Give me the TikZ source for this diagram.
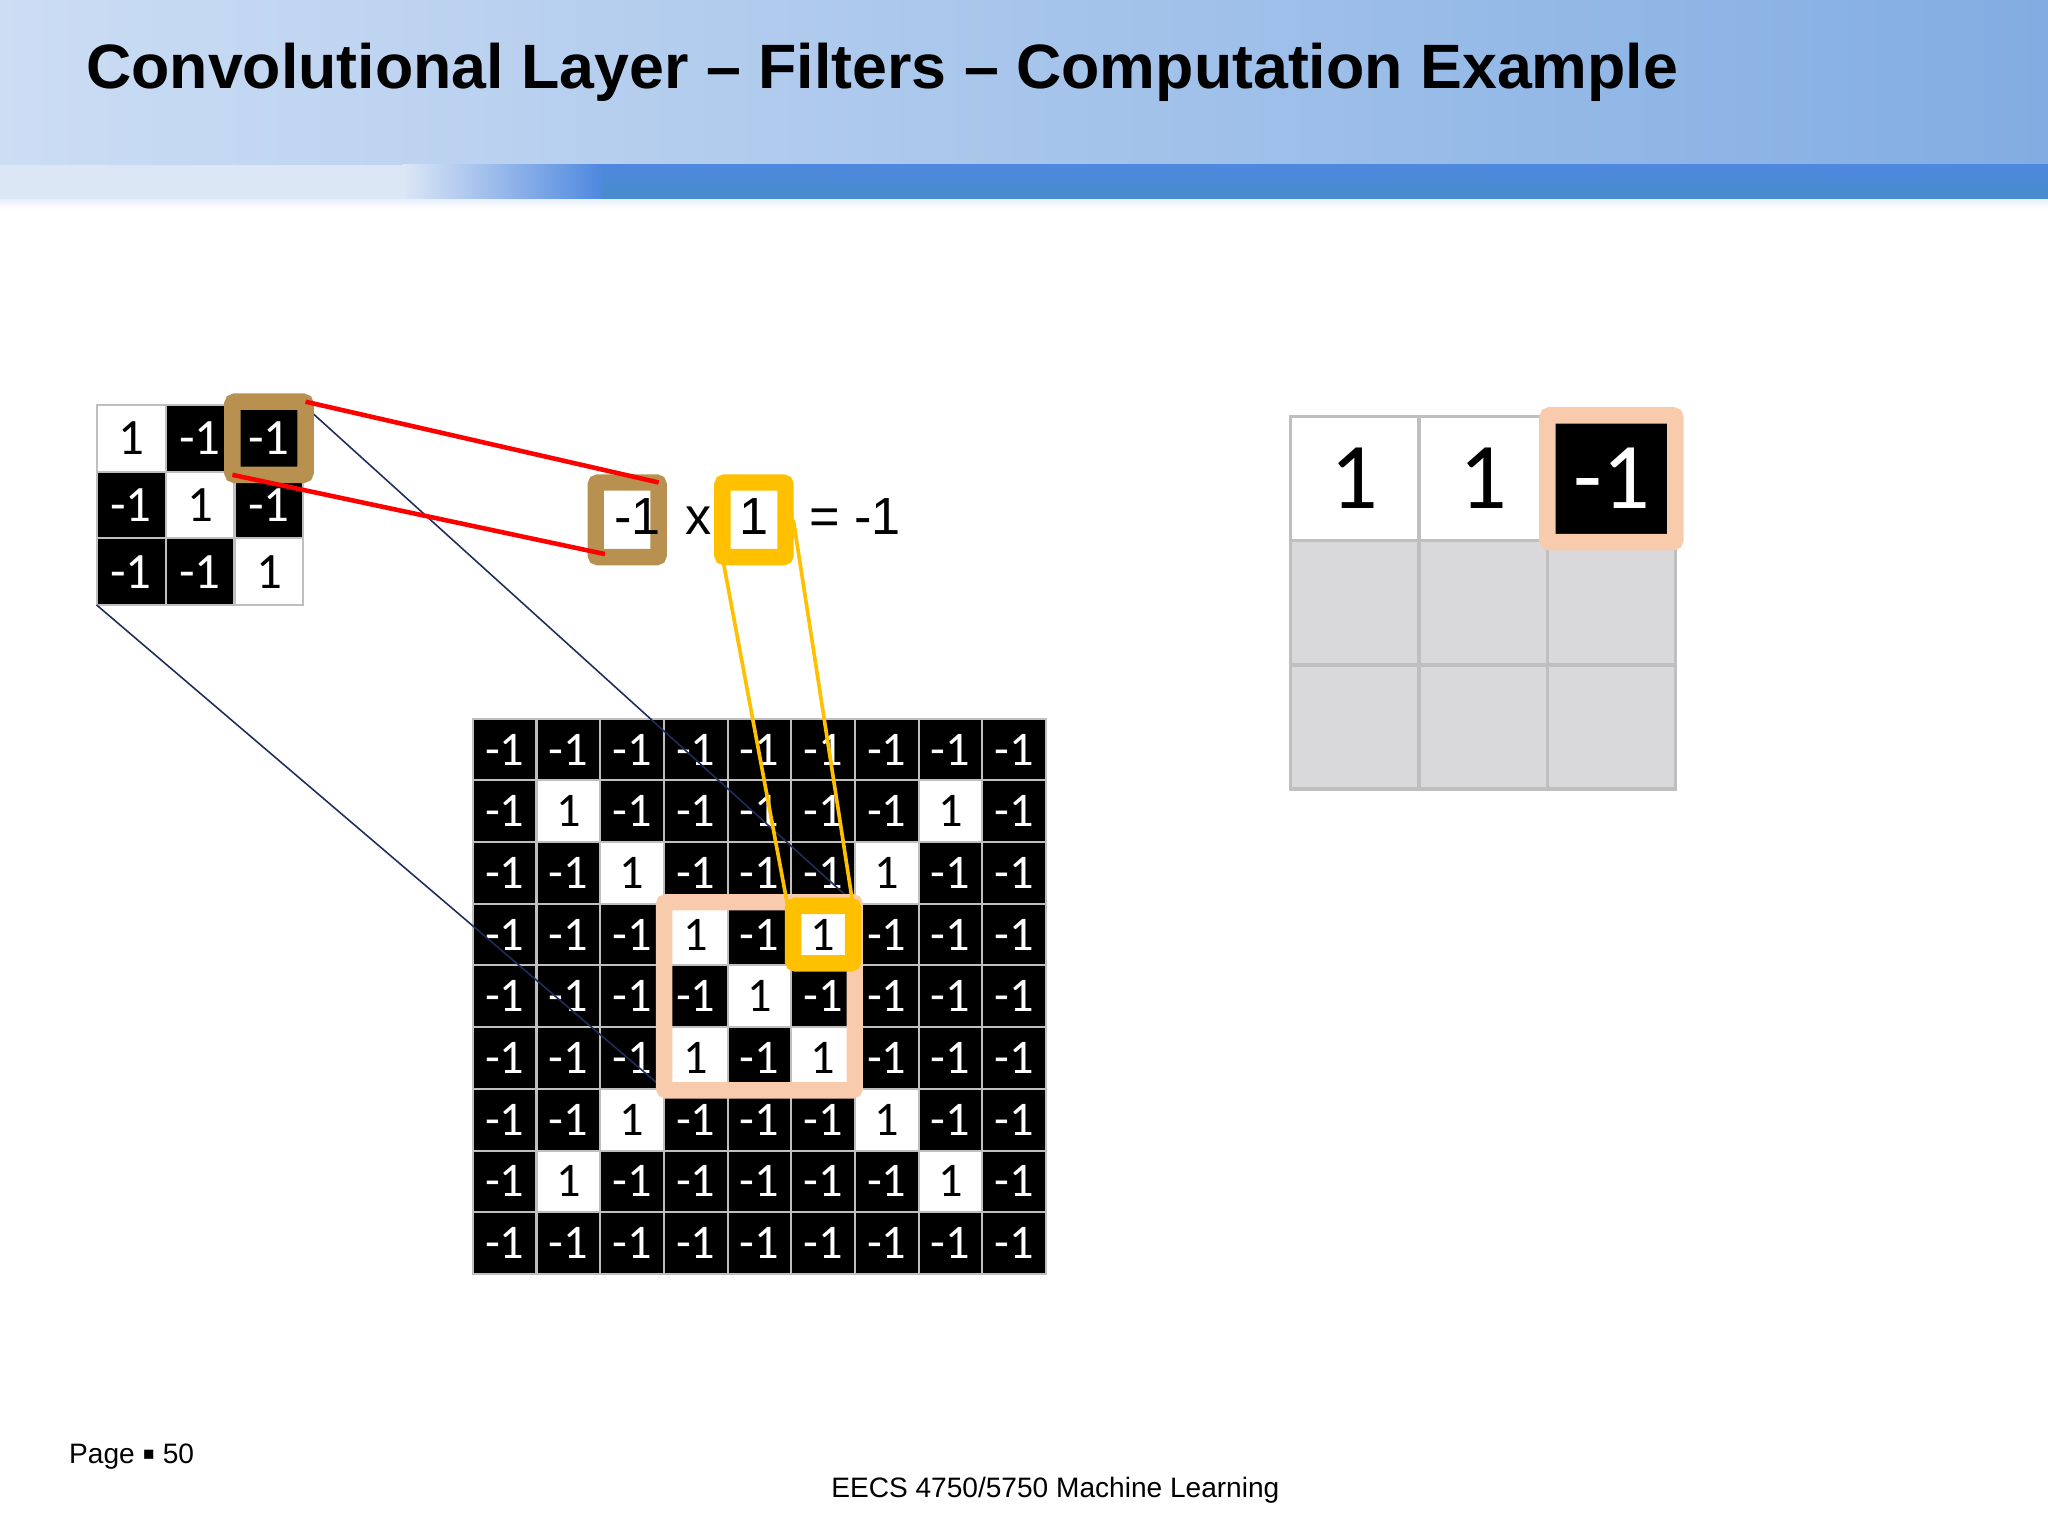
\documentclass[tikz,border=0pt]{standalone}
\usepackage{fontspec}
\setmainfont{Liberation Sans}
\newfontfamily\cellfont{Carlito}
\newfontfamily\symfont{DejaVu Sans}
\definecolor{hdleft}{HTML}{CCDDF4}
\definecolor{hdright}{HTML}{82ADE2}
\definecolor{bandpale}{HTML}{DCE7F6}
\definecolor{bandtop}{HTML}{4F88DF}
\definecolor{bandbot}{HTML}{478CCB}
\definecolor{gridline}{HTML}{BFBFBF}
\definecolor{outgrey}{HTML}{D9D8DB}
\definecolor{peach}{HTML}{F8CBAD}
\definecolor{gold}{HTML}{FFC000}
\definecolor{filtertan}{HTML}{B89150}
\definecolor{navyline}{HTML}{1F2D5A}

\begin{document}
\begin{tikzpicture}[x=1pt,y=-1pt]
    \tikzstyle{every node}=[inner sep=0pt, outer sep=0pt]
    \tikzstyle{fcell}=[draw=gridline, line width=1.6pt, minimum width=52.77pt, minimum height=51.07pt, font=\cellfont\fontsize{39}{39}\selectfont]
    \tikzstyle{gcell}=[draw=gridline, line width=1.6pt, minimum width=48.76pt, minimum height=47.24pt, font=\cellfont\fontsize{37}{37}\selectfont]
    \tikzstyle{ocell}=[draw=gridline, line width=2.6pt, minimum width=98.3pt, minimum height=95pt, font=\cellfont\fontsize{72}{72}\selectfont]
    \tikzstyle{frame}=[rounded corners=2pt, line width=12.6pt]
    \tikzstyle{eqtext}=[anchor=base, font=\fontsize{40}{40}\selectfont]
    \tikzstyle{redline}=[red, line width=3.5pt]
    \tikzstyle{goldline}=[gold, line width=2.8pt]

    \useasboundingbox (0,0) rectangle (1568,1176);
    \fill[white] (0,0) rectangle (1568,1176);

    % header
    \shade[left color=hdleft, right color=hdright] (0,0) rectangle (1568,126);
    \fill[bandpale] (0,126) rectangle (308,153);
    \shade[left color=bandpale, right color=bandtop] (308,126) rectangle (461,153);
    \shade[top color=bandtop, bottom color=bandbot] (461,126) rectangle (1568,153);
    \shade[top color=bandpale!60, bottom color=white] (0,153) rectangle (1568,160);
    \node[anchor=base west, font=\bfseries\fontsize{48}{50}\selectfont] (title) at (66,68) {Convolutional Layer – Filters – Computation Example};

    % filter
    \foreach \vals [count=\r] in {{1,-1,-1},{-1,1,-1},{-1,-1,1}} {
      \foreach \v [count=\c] in \vals {
        \ifnum\v>0 \def\fc{white}\def\tc{black}\else\def\fc{black}\def\tc{white}\fi
        \node[fcell, fill=\fc, text=\tc] (f-\r-\c) at ({74+52.77*(\c-0.5)},{310+51.07*(\r-0.5)}) {\v};
      }
    }

    % image
    \foreach \vals [count=\r] in {{-1,-1,-1,-1,-1,-1,-1,-1,-1},{-1,1,-1,-1,-1,-1,-1,1,-1},{-1,-1,1,-1,-1,-1,1,-1,-1},
        {-1,-1,-1,1,-1,1,-1,-1,-1},{-1,-1,-1,-1,1,-1,-1,-1,-1},{-1,-1,-1,1,-1,1,-1,-1,-1},
        {-1,-1,1,-1,-1,-1,1,-1,-1},{-1,1,-1,-1,-1,-1,-1,1,-1},{-1,-1,-1,-1,-1,-1,-1,-1,-1}} {
      \foreach \v [count=\c] in \vals {
        \ifnum\v>0 \def\fc{white}\def\tc{black}\else\def\fc{black}\def\tc{white}\fi
        \node[gcell, fill=\fc, text=\tc] (g-\r-\c) at ({362+48.76*(\c-0.5)},{550.2+47.24*(\r-0.5)}) {\v};
      }
    }

    % feature map
    \foreach \v [count=\c] in {1,1,-1} {
      \ifnum\v>0 \def\fc{white}\def\tc{black}\else\def\fc{black}\def\tc{white}\fi
      \node[ocell, fill=\fc, text=\tc] (o-1-\c) at ({988+98.3*(\c-0.5)},366.5) {\v};
    }
    \foreach \r in {2,3} {
      \foreach \c in {1,2,3}
        \node[ocell, fill=outgrey] (o-\r-\c) at ({988+98.3*(\c-0.5)},{319+95*(\r-0.5)}) {};
    }

    % receptive field
    \draw[navyline, line width=1.2pt] (f-3-1.south west) -- (g-6-4.south west);
    \draw[navyline, line width=1.2pt] (f-1-3.north east) -- (g-4-6.north east);
    \node[frame, draw=peach, minimum width=146pt, minimum height=144pt] (win) at (g-5-5) {};
    \node[frame, draw=gold, minimum width=46pt, minimum height=44pt] (gone) at (g-4-6) {};
    \node[frame, draw=filtertan, minimum width=56pt, minimum height=56pt] (fsel) at (f-1-3) {};
    \node[frame, draw=peach, minimum width=98pt, minimum height=97pt] (osel) at (o-1-3) {};

    % product
    \node[frame, draw=filtertan, fill=white, minimum width=48.2pt, minimum height=57.2pt] (esel) at (480.2,398) {};
    \node[frame, draw=gold, fill=white, minimum width=48.3pt, minimum height=57.2pt] (eone) at (577.25,398) {};
    \node[eqtext] (ea) at (488,409) {-1};
    \node[eqtext] (ex) at (535,409) {x};
    \node[eqtext] (eb) at (577.5,409) {1};
    \node[eqtext, anchor=base west] (er) at (619.5,409) {= -1};

    \draw[goldline] (eone.south west) -- (gone.west);
    \draw[goldline] ([xshift=6pt]eone.east) -- (gone.north east);
    \draw[redline] (fsel.north east) -- (esel.north east);
    \draw[redline] (fsel.south west) -- ([xshift=7pt,yshift=2.4pt]esel.south west);

    % footer
    \node[anchor=base west, font=\fontsize{21.5}{24}\selectfont] (page) at (53,1120.5) {Page \raisebox{3pt}{\symfont\fontsize{14}{14}\selectfont ▪} 50};
    \node[anchor=base west, font=\fontsize{21.5}{24}\selectfont] (course) at (636.5,1146.8) {EECS 4750/5750 Machine Learning};
\end{tikzpicture}
\end{document}
